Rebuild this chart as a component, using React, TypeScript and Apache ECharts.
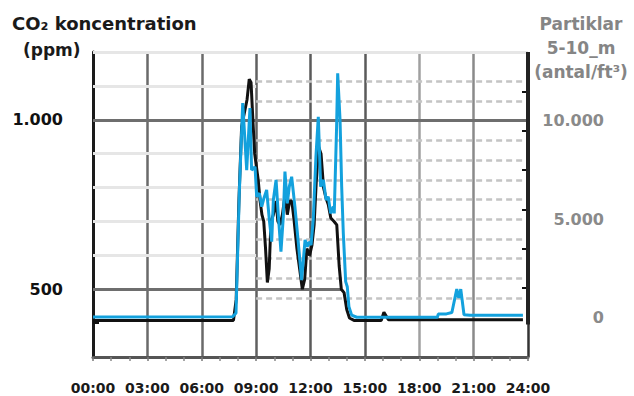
import { useEffect, useRef } from "react";
import * as echarts from "echarts";

// CO2 concentration (ppm), left axis
const co2Hours = [0, 7.75, 7.9, 8.05, 8.2, 8.35, 8.5, 8.62, 8.72, 8.82, 8.92, 9.02, 9.12, 9.22, 9.32, 9.42, 9.52, 9.62, 9.72, 9.82, 9.95, 10.1, 10.2, 10.32, 10.45, 10.6, 10.72, 10.85, 10.97, 11.1, 11.25, 11.4, 11.55, 11.68, 11.8, 11.95, 12.08, 12.2, 12.32, 12.45, 12.58, 12.72, 12.85, 12.98, 13.12, 13.3, 13.45, 13.58, 13.7, 13.85, 14.0, 14.15, 14.4, 15.9, 16.05, 16.3, 23.72];
const co2Ppm = [408, 408, 470, 760, 980, 1020, 1060, 1120, 1110, 1000, 900, 860, 820, 760, 720, 700, 620, 520, 560, 700, 720, 760, 700, 690, 720, 780, 720, 760, 760, 700, 620, 560, 500, 530, 620, 600, 630, 690, 820, 920, 900, 800, 770, 750, 710, 700, 690, 570, 500, 490, 440, 415, 408, 408, 432, 410, 410];

// Particles 5-10 µm (antal/ft3), right axis
const partHours = [0, 7.7, 7.89, 8.07, 8.26, 8.48, 8.66, 8.75, 8.94, 9.03, 9.18, 9.31, 9.43, 9.58, 9.73, 9.86, 9.95, 10.1, 10.23, 10.37, 10.5, 10.59, 10.72, 10.83, 10.96, 11.14, 11.33, 11.51, 11.7, 11.82, 11.93, 12.03, 12.15, 12.3, 12.43, 12.56, 12.71, 12.86, 12.98, 13.11, 13.26, 13.31, 13.44, 13.5, 13.63, 13.72, 13.81, 13.94, 14.03, 14.12, 14.27, 14.55, 19.0, 19.05, 19.5, 19.8, 20.07, 20.18, 20.29, 20.47, 20.8, 23.72];
const partCount = [30, 40, 240, 6300, 10900, 7500, 10650, 7500, 7670, 6150, 6320, 5640, 6070, 6490, 4960, 3860, 5980, 7000, 5130, 3350, 5130, 7420, 5810, 6660, 7160, 5640, 3780, 1910, 3950, 3610, 3860, 3690, 4960, 8180, 10210, 6660, 7000, 5980, 6150, 5300, 5640, 5300, 9700, 12420, 10050, 6660, 4290, 1830, 1570, 560, 130, 20, 20, 180, 190, 260, 1450, 1000, 1450, 150, 120, 120];

// Axis ticks / labels
const hourTicks = [0, 3, 6, 9, 12, 15, 18, 21, 24];
const co2Labels = [500, 1000];
const co2TickValues = [400, 500, 600, 700, 800, 900, 1000, 1100];
const partLabels = [0, 5000, 10000];
const partTickValues = [1500, 3500, 5500, 7500, 9500, 11500];

// Reference lines
const co2LightLines = [600, 700, 800, 900, 1100];
const partDashLines = [1000, 2000, 3000, 4000, 5000, 6000, 7000, 8000, 9000, 11000, 12000];

const FONT = "'DejaVu Sans', Arial, sans-serif";

export default function App() {
  const ref = useRef<HTMLDivElement>(null);
  useEffect(() => {
    const chart = echarts.init(ref.current!, null, { renderer: "svg" });
    const seg = (x1: number, x2: number, y: number) => [{ coord: [x1, y] }, { coord: [x2, y] }];
    chart.setOption({
      animation: false,
      backgroundColor: "#ffffff",
      grid: { left: 93, right: 106, top: 52, bottom: 39, containLabel: false, outerBoundsMode: "none" },
      graphic: [
        { type: "text", left: 12, top: 14, style: { text: "CO₂ koncentration", font: `bold 18px ${FONT}`, fill: "#1a1a1a" } },
        { type: "text", left: 23, top: 41, style: { text: "(ppm)", font: `bold 17px ${FONT}`, fill: "#1a1a1a" } },
        { type: "text", x: 581, y: 15, style: { text: "Partiklar", font: `bold 17px ${FONT}`, fill: "#858585", textAlign: "center" } },
        { type: "text", x: 581, y: 39, style: { text: "5-10_m", font: `bold 17px ${FONT}`, fill: "#858585", textAlign: "center" } },
        { type: "text", x: 581, y: 63, style: { text: "(antal/ft³)", font: `bold 17px ${FONT}`, fill: "#858585", textAlign: "center" } },
      ],
      xAxis: {
        type: "value",
        min: 0,
        max: 24,
        interval: 3,
        axisLine: { show: true, onZero: false, lineStyle: { color: "#555555", width: 3 } },
        axisTick: { show: true, length: 4, lineStyle: { color: "#777777", width: 1.5 } },
        minorTick: { show: true, splitNumber: 3, length: 4, lineStyle: { color: "#888888", width: 1.5 } },
        axisLabel: {
          customValues: hourTicks,
          formatter: (v: number) => String(v).padStart(2, "0") + ":00",
          color: "#1a1a1a",
          fontSize: 14,
          fontWeight: "bold",
          fontFamily: FONT,
          margin: 24,
        },
        splitLine: {
          show: true,
          lineStyle: { color: ["#333333", "#6a6a6a", "#6a6a6a", "#606060", "#5a5a5a", "#5a5a5a", "#a0a0a0", "#8a8a8a", "#333333"], width: 2.5 },
        },
      },
      yAxis: [
        {
          type: "value",
          position: "left",
          min: 300,
          max: 1200,
          interval: 100,
          axisLine: { show: true, onZero: false, lineStyle: { color: "#1a1a1a", width: 3 } },
          axisTick: { show: true, inside: true, length: 6, customValues: co2TickValues, lineStyle: { color: "#111111", width: 2 } },
          axisLabel: {
            customValues: co2Labels,
            formatter: (v: number) => (v >= 1000 ? v / 1000 + ".000" : String(v)),
            color: "#111111",
            fontSize: 16,
            fontWeight: "bold",
            fontFamily: FONT,
            margin: 30,
          },
          splitLine: { show: false },
        },
        {
          type: "value",
          position: "right",
          min: -2000,
          max: 13500,
          interval: 500,
          axisLine: { show: false, onZero: false },
          axisTick: { show: true, inside: true, length: 6, customValues: partTickValues, lineStyle: { color: "#111111", width: 2 } },
          axisLabel: {
            customValues: partLabels,
            formatter: (v: number) => (v >= 1000 ? v / 1000 + ".000" : String(v)),
            color: "#8a8a8a",
            fontSize: 16,
            fontWeight: "bold",
            fontFamily: FONT,
            align: "right",
            margin: 76,
          },
          splitLine: { show: false },
        },
      ],
      series: [
        {
          type: "line",
          yAxisIndex: 0,
          data: [],
          z: 1,
          silent: true,
          markLine: {
            silent: true,
            symbol: "none",
            label: { show: false },
            lineStyle: { color: "#e6e6e6", width: 3, type: "solid" },
            data: [...co2LightLines.map((y) => seg(0, 9, y)), seg(0, 24, 1200)],
          },
        },
        {
          type: "line",
          yAxisIndex: 1,
          data: [],
          z: 2,
          silent: true,
          markLine: {
            silent: true,
            symbol: "none",
            label: { show: false },
            lineStyle: { color: "#c4c4c4", width: 2.5, type: [6, 4] },
            data: partDashLines.map((y) => seg(9, 24, y)),
          },
        },
        {
          type: "line",
          yAxisIndex: 0,
          data: [],
          z: 3,
          silent: true,
          markLine: {
            silent: true,
            symbol: "none",
            label: { show: false },
            lineStyle: { color: "#6e6e6e", width: 3, type: "solid" },
            data: [seg(0, 24, 1000), seg(0, 13.7, 500)],
          },
        },
        {
          name: "CO2",
          type: "line",
          yAxisIndex: 0,
          z: 5,
          symbol: "none",
          lineStyle: { color: "#111111", width: 3 },
          data: co2Hours.map((h, i) => [h, co2Ppm[i]]),
        },
        {
          name: "Partiklar",
          type: "line",
          yAxisIndex: 1,
          z: 6,
          symbol: "none",
          lineStyle: { color: "#13a1dd", width: 3 },
          data: partHours.map((h, i) => [h, partCount[i]]),
          markLine: {
            silent: true,
            symbol: "none",
            label: { show: false },
            lineStyle: { color: "#222222", width: 4, type: "solid" },
            data: [[{ coord: [24, -350] }, { coord: [24, 13500] }]],
          },
        },
      ],
    });
    return () => chart.dispose();
  }, []);
  return <div ref={ref} style={{ position: "absolute", left: 0, top: 0, width: 634, height: 396 }} />;
}
